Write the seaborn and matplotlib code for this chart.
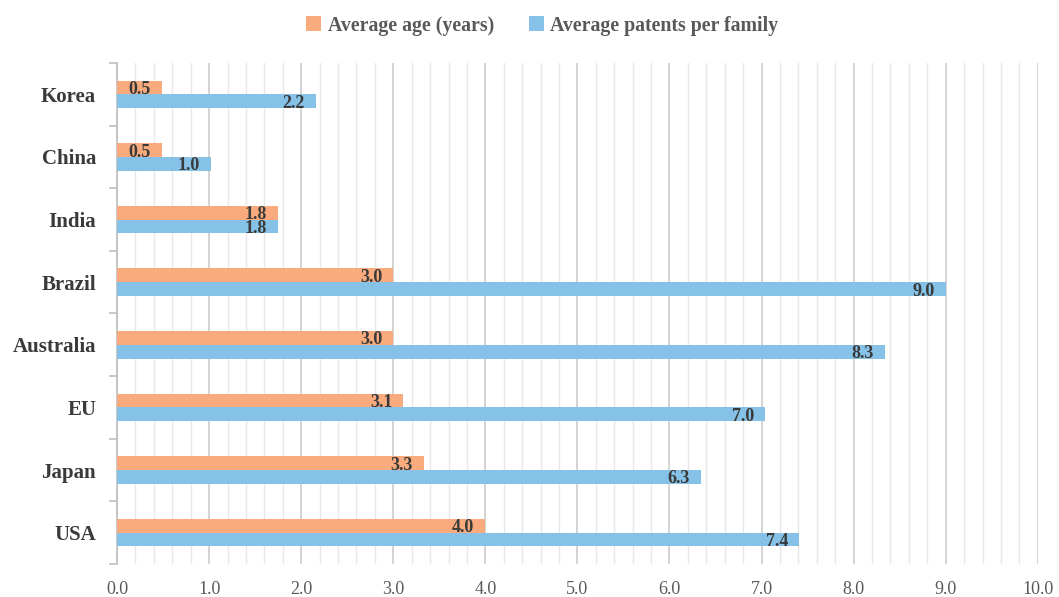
import matplotlib
matplotlib.use("Agg")
import matplotlib.pyplot as plt
import seaborn as sns
import pandas as pd
import numpy as np
from matplotlib.ticker import MultipleLocator, FixedLocator

countries = ["Korea", "China", "India", "Brazil", "Australia", "EU", "Japan", "USA"]
avg_age = [0.49, 0.49, 1.75, 3.0, 3.0, 3.11, 3.33, 4.0]
avg_patents = [2.16, 1.02, 1.75, 9.0, 8.34, 7.04, 6.34, 7.41]
series_names = ["Average age (years)", "Average patents per family"]
x_ticks = [0, 1, 2, 3, 4, 5, 6, 7, 8, 9, 10]

df = pd.DataFrame({
    "country": countries * 2,
    "value": avg_age + avg_patents,
    "series": [series_names[0]] * len(countries) + [series_names[1]] * len(countries),
})

sns.set_theme(style="white")
plt.rcParams["font.family"] = ["Liberation Serif", "DejaVu Serif"]

fig = plt.figure(figsize=(10.59, 5.97), dpi=100)
ax = fig.add_axes([0.1105, 0.0553, 0.8695, 0.8392])

palette = {series_names[0]: "#F9AB7E", series_names[1]: "#86C1E8"}
sns.barplot(data=df, y="country", x="value", hue="series", order=countries,
            hue_order=series_names, palette=palette, orient="h", width=0.44,
            saturation=1, ax=ax, zorder=3, edgecolor="none")

ax.set_xlim(0, 10)
ax.set_ylim(len(countries) - 0.5, -0.5)
ax.xaxis.set_major_locator(FixedLocator(x_ticks))
ax.xaxis.set_minor_locator(MultipleLocator(0.2))
ax.set_xticklabels([f"{t:.1f}" for t in x_ticks])
ax.grid(axis="x", which="major", color="#D0D0D0", linewidth=1.3, zorder=0)
ax.grid(axis="x", which="minor", color="#E8E8E8", linewidth=1.0, zorder=0)
ax.set_axisbelow(True)

ax.yaxis.set_minor_locator(FixedLocator(np.arange(-0.5, len(countries), 1.0)))
ax.tick_params(axis="y", which="major", length=0, pad=15, labelsize=15, labelcolor="#3A3A3A")
ax.tick_params(axis="y", which="minor", length=6, color="#BFBFBF", width=1.2, left=True)
ax.tick_params(axis="x", which="both", length=0, pad=12, labelsize=13, labelcolor="#595959")
for lbl in ax.get_yticklabels():
    lbl.set_fontweight("bold")

for s in ["top", "right", "bottom"]:
    ax.spines[s].set_visible(False)
ax.spines["left"].set_color("#BFBFBF")
ax.spines["left"].set_linewidth(1.2)
ax.set_xlabel("")
ax.set_ylabel("")

for container in ax.containers:
    labels = [f"{v:.1f}" for v in container.datavalues]
    texts = ax.bar_label(container, labels=labels, label_type="edge", padding=-24,
                         fontsize=13, fontweight="bold", color="#3A3A3A")
    for t in texts:
        t.set_va("center_baseline")

handles, labs = ax.get_legend_handles_labels()
if ax.get_legend():
    ax.get_legend().remove()
fig.legend(handles, labs, loc="center", bbox_to_anchor=(0.512, 0.957), ncol=2,
           frameon=False, handlelength=0.75, handleheight=0.75,
           columnspacing=1.75, handletextpad=0.35, labelcolor="#595959",
           prop={"weight": "bold", "size": 14.3})

fig.savefig("out.png", dpi=100)
